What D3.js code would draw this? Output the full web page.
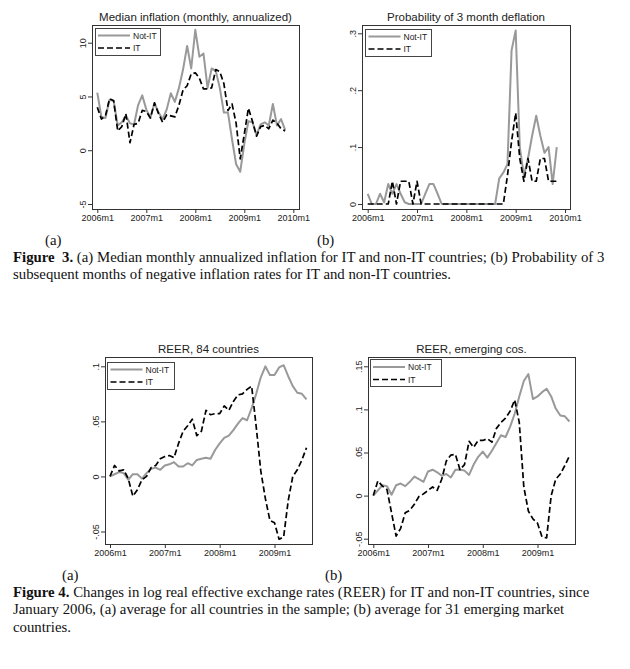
<!DOCTYPE html>
<html>
<head>
<meta charset="utf-8">
<script src="https://cdn.jsdelivr.net/npm/d3@7"></script>
<style>
  body { margin: 0; background: #fff; }
  svg { display: block; }
</style>
</head>
<body>
<div id="chart"></div>
<script>
// ---- data (monthly, starting 2006m1) ----

// Figure 3a: median monthly annualized inflation
const inflNotIT = [5.35, 3.1, 3.0, 4.7, 4.6, 2.3, 2.6, 3.2, 2.5, 2.4, 4.2, 5.1, 3.8, 3.0, 4.4, 3.5, 2.9, 3.8, 5.3, 4.5,
  5.8, 7.5, 9.7, 7.6, 11.2, 8.7, 9.0, 5.8, 7.6, 7.4, 5.8, 3.5, 3.5, 1.0, -1.3, -2.0, 0.6, 2.7, 2.6, 1.4,
  2.4, 2.6, 2.3, 4.3, 2.3, 2.9, 1.9];
const inflIT = [4.0, 2.9, 3.2, 4.8, 4.6, 1.8, 2.2, 3.4, 0.7, 2.4, 2.5, 3.7, 3.6, 3.0, 4.4, 3.4, 2.6, 3.3, 3.2, 3.1,
  4.2, 5.6, 6.0, 7.1, 7.2, 6.7, 5.7, 5.7, 5.8, 7.5, 7.3, 6.2, 3.7, 4.3, 2.5, -0.8, 1.5, 3.9, 2.7, 1.3,
  2.2, 2.3, 2.0, 2.8, 2.5, 2.0, 1.8];

// Figure 3b: probability of 3 month deflation
const deflNotIT = [0.018, 0, 0, 0.018, 0.003, 0.035, 0.018, 0.035, 0.018, 0.003, 0, 0, 0, 0, 0.018, 0.035, 0.035, 0.018, 0, 0,
  0, 0, 0, 0, 0, 0, 0, 0, 0, 0, 0, 0, 0.045, 0.055, 0.07, 0.27, 0.305, 0.1, 0.05, 0.08,
  0.12, 0.155, 0.12, 0.09, 0.10, 0.035, 0.10];
const deflIT = [0, 0, 0, 0, 0, 0, 0.04, 0, 0.04, 0.04, 0.04, 0, 0.04, 0, 0, 0, 0, 0, 0, 0,
  0, 0, 0, 0, 0, 0, 0, 0, 0, 0, 0, 0, 0, 0, 0.05, 0.11, 0.16, 0.08, 0.04, 0.08,
  0.04, 0.04, 0.08, 0.08, 0.04, 0.04, 0.04];

// Figure 4a: REER, 84 countries
const reerAllNotIT = [0.0, 0.002, 0.004, 0.003, -0.003, 0.002, 0.002, -0.002, 0.003, 0.007,
  0.008, 0.006, 0.010, 0.011, 0.013, 0.009, 0.009, 0.012, 0.010, 0.015,
  0.016, 0.017, 0.016, 0.024, 0.030, 0.035, 0.037, 0.042, 0.048, 0.053,
  0.051, 0.062, 0.075, 0.090, 0.100, 0.092, 0.092, 0.099, 0.101, 0.091,
  0.082, 0.076, 0.075, 0.070];
const reerAllIT = [0.0, 0.010, 0.005, 0.006, -0.002, -0.018, -0.012, -0.003, 0.000, 0.008,
  0.010, 0.016, 0.018, 0.019, 0.017, 0.030, 0.041, 0.046, 0.052, 0.037,
  0.041, 0.060, 0.056, 0.057, 0.057, 0.064, 0.060, 0.068, 0.074, 0.075,
  0.079, 0.082, 0.045, 0.005, -0.020, -0.040, -0.042, -0.057, -0.055, -0.022,
  0.0, 0.006, 0.015, 0.026];

// Figure 4b: REER, emerging countries
const reerEmNotIT = [0.0, 0.006, 0.012, 0.011, 0.001, 0.012, 0.014, 0.011, 0.016, 0.022,
  0.019, 0.016, 0.028, 0.030, 0.027, 0.023, 0.025, 0.021, 0.030, 0.030,
  0.029, 0.024, 0.036, 0.045, 0.051, 0.044, 0.052, 0.061, 0.070, 0.068,
  0.080, 0.095, 0.115, 0.133, 0.141, 0.112, 0.115, 0.120, 0.124, 0.115,
  0.101, 0.093, 0.092, 0.086];
const reerEmIT = [0.0, 0.017, 0.011, 0.007, -0.020, -0.047, -0.038, -0.020, -0.017, -0.010,
  -0.001, 0.002, 0.006, 0.010, 0.006, 0.019, 0.040, 0.047, 0.048, 0.030,
  0.036, 0.063, 0.056, 0.064, 0.064, 0.066, 0.062, 0.078, 0.085, 0.090,
  0.098, 0.111, 0.085, 0.010, -0.018, -0.027, -0.032, -0.048, -0.049, 0.0,
  0.019, 0.025, 0.035, 0.046];

// axis ticks
const fig3XTicks = ["2006m1", "2007m1", "2008m1", "2009m1", "2010m1"];
const fig4XTicks = ["2006m1", "2007m1", "2008m1", "2009m1"];
const inflYTicks = [-5, 0, 5, 10];
const inflYLabels = ["-5", "0", "5", "10"];
const deflYTicks = [0, 0.1, 0.2, 0.3];
const deflYLabels = ["0", ".1", ".2", ".3"];
const reerAllYTicks = [-0.05, 0, 0.05, 0.1];
const reerAllYLabels = ["-.05", "0", ".05", ".1"];
const reerEmYTicks = [-0.05, 0, 0.05, 0.1, 0.15];
const reerEmYLabels = ["-.05", "0", ".05", ".1", ".15"];

const legendLabels = ["Not-IT", "IT"];

const SANS = "'Liberation Sans', Arial, sans-serif";
const SERIF = "'Liberation Serif', 'Times New Roman', serif";
const GRAY = "#999999";

var svg = d3.select("#chart")
  .append("svg")
    .attr("width", 630)
    .attr("height", 669);

svg.append("rect")
  .attr("width", 630)
  .attr("height", 669)
  .attr("fill", "#fff");

// "2007m1" -> months since 2006m1
function monthIndex(label) {
  const parts = label.split("m").map(Number);
  return (parts[0] - 2006) * 12 + parts[1] - 1;
}

function drawPanel(cfg) {
  const f = cfg.frame;
  const g = svg.append("g");

  const lastTick = cfg.xTicks[cfg.xTicks.length - 1];
  const x = d3.scaleLinear()
    .domain([0, monthIndex(lastTick)])
    .range(cfg.xRange);
  const y = d3.scaleLinear()
    .domain([cfg.yTicks[0], cfg.yTicks[cfg.yTicks.length - 1]])
    .range(cfg.yRange);

  // plot region
  g.append("rect")
    .attr("x", f.l).attr("y", f.t)
    .attr("width", f.r - f.l).attr("height", f.b - f.t)
    .attr("fill", "#fff")
    .attr("stroke", "#333")
    .attr("stroke-width", 1)
    .attr("shape-rendering", "crispEdges");

  // title
  g.append("text")
    .attr("x", (f.l + f.r) / 2)
    .attr("y", f.t - 4)
    .attr("text-anchor", "middle")
    .style("font-family", SANS)
    .style("font-size", "11.5px")
    .style("fill", "#222")
    .text(cfg.title);

  // x axis
  const xAxis = g.append("g")
    .attr("transform", "translate(0," + f.b + ")")
    .call(d3.axisBottom(x)
      .tickValues(cfg.xTicks.map(monthIndex))
      .tickFormat(function(d, i) { return cfg.xTicks[i]; })
      .tickSize(4)
      .tickSizeOuter(0));
  xAxis.select(".domain").remove();
  xAxis.selectAll("line").attr("stroke", "#333");
  xAxis.selectAll("text")
    .attr("y", 6)
    .style("font-family", SANS)
    .style("font-size", "9px")
    .style("fill", "#222");

  // y axis, labels turned vertical
  const yAxis = g.append("g")
    .attr("transform", "translate(" + f.l + ",0)")
    .call(d3.axisLeft(y)
      .tickValues(cfg.yTicks)
      .tickFormat(function(d, i) { return cfg.yLabels[i]; })
      .tickSize(4)
      .tickSizeOuter(0));
  yAxis.select(".domain").remove();
  yAxis.selectAll("line").attr("stroke", "#333");
  yAxis.selectAll("text")
    .attr("transform", "rotate(-90)")
    .attr("x", 0)
    .attr("y", -6.5)
    .attr("dy", 0)
    .attr("text-anchor", "middle")
    .style("font-family", SANS)
    .style("font-size", "9px")
    .style("fill", "#222");

  const line = d3.line()
    .x(function(d, i) { return x(i); })
    .y(function(d) { return y(d); });

  // Not-IT first, IT drawn on top
  g.append("path")
    .datum(cfg.notIT)
    .attr("d", line)
    .attr("fill", "none")
    .attr("stroke", GRAY)
    .attr("stroke-width", 2)
    .attr("stroke-linejoin", "round");

  g.append("path")
    .datum(cfg.it)
    .attr("d", line)
    .attr("fill", "none")
    .attr("stroke", "#000")
    .attr("stroke-width", 1.7)
    .attr("stroke-dasharray", "6,3")
    .attr("stroke-linejoin", "round");

  // legend
  const lg = cfg.legend;
  g.append("rect")
    .attr("x", lg.x).attr("y", lg.y)
    .attr("width", lg.w).attr("height", 27)
    .attr("fill", "#fff")
    .attr("stroke", "#444")
    .attr("stroke-width", 1)
    .attr("shape-rendering", "crispEdges");

  legendLabels.forEach(function(label, i) {
    const ly = lg.y + 7.5 + i * 12.5;
    g.append("line")
      .attr("x1", lg.x + 3).attr("x2", lg.x + 35)
      .attr("y1", ly).attr("y2", ly)
      .attr("stroke", i === 0 ? GRAY : "#000")
      .attr("stroke-width", i === 0 ? 2 : 1.7)
      .attr("stroke-dasharray", i === 0 ? null : "6,3");
    g.append("text")
      .attr("x", lg.x + 38)
      .attr("y", ly + 3)
      .style("font-family", SANS)
      .style("font-size", "8.5px")
      .style("fill", "#222")
      .text(label);
  });
}

drawPanel({
  title: "Median inflation (monthly, annualized)",
  frame: {l: 92, r: 299, t: 25, b: 209},
  xRange: [97.3, 293.3], xTicks: fig3XTicks,
  yRange: [204, 42.7], yTicks: inflYTicks, yLabels: inflYLabels,
  notIT: inflNotIT, it: inflIT,
  legend: {x: 95, y: 28, w: 65}
});

drawPanel({
  title: "Probability of 3 month deflation",
  frame: {l: 362, r: 570, t: 25, b: 209},
  xRange: [367.7, 565], xTicks: fig3XTicks,
  yRange: [204, 33.3], yTicks: deflYTicks, yLabels: deflYLabels,
  notIT: deflNotIT, it: deflIT,
  legend: {x: 365.5, y: 29, w: 66}
});

drawPanel({
  title: "REER, 84 countries",
  frame: {l: 105, r: 312, t: 357, b: 544},
  xRange: [110, 274.5], xTicks: fig4XTicks,
  yRange: [531.5, 366.3], yTicks: reerAllYTicks, yLabels: reerAllYLabels,
  notIT: reerAllNotIT, it: reerAllIT,
  legend: {x: 107.5, y: 362, w: 67}
});

drawPanel({
  title: "REER, emerging cos.",
  frame: {l: 368, r: 575, t: 357, b: 544},
  xRange: [373.3, 537.5], xTicks: fig4XTicks,
  yRange: [538.7, 366.3], yTicks: reerEmYTicks, yLabels: reerEmYLabels,
  notIT: reerEmNotIT, it: reerEmIT,
  legend: {x: 370, y: 359.5, w: 71}
});

// captions
function caption(xPos, yPos, parts) {
  const t = svg.append("text")
    .attr("x", xPos)
    .attr("y", yPos)
    .style("font-family", SERIF)
    .style("font-size", "14.8px")
    .style("fill", "#111")
    .style("white-space", "pre");
  parts.forEach(function(p) {
    t.append("tspan")
      .style("font-weight", p.bold ? 700 : 400)
      .text(p.text);
  });
}

caption(45, 245, [{text: "(a)"}]);
caption(317, 245, [{text: "(b)"}]);
caption(13, 262, [{text: "Figure  3.", bold: true},
  {text: " (a) Median monthly annualized inflation for IT and non-IT countries; (b) Probability of 3"}]);
caption(13, 279, [{text: "subsequent months of negative inflation rates for IT and non-IT countries."}]);

caption(62, 580, [{text: "(a)"}]);
caption(325, 580, [{text: "(b)"}]);
caption(13, 597, [{text: "Figure 4.", bold: true},
  {text: " Changes in log real effective exchange rates (REER) for IT and non-IT countries, since"}]);
caption(13, 614, [{text: "January 2006, (a) average for all countries in the sample; (b) average for 31 emerging market"}]);
caption(13, 632, [{text: "countries."}]);
</script>
</body>
</html>
